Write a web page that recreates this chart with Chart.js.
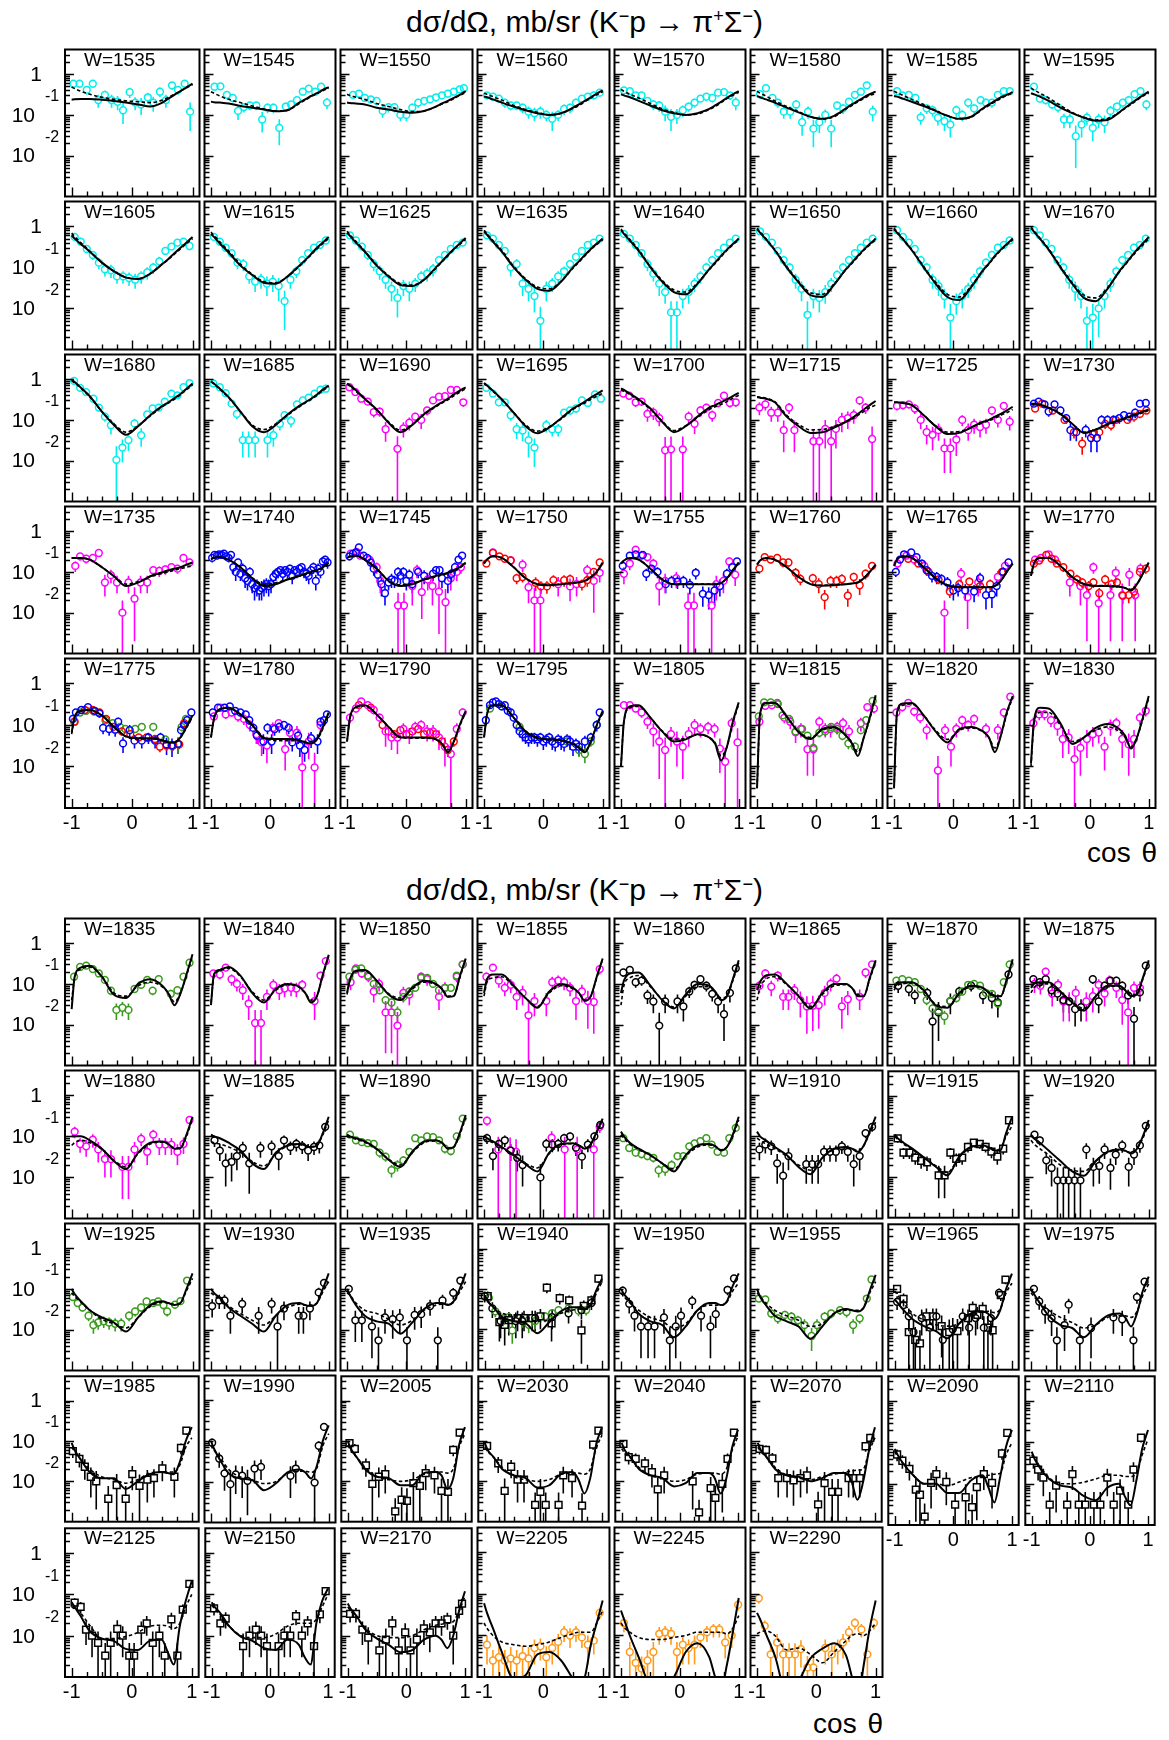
<!DOCTYPE html>
<html>
<head>
<meta charset="utf-8">
<script src="https://cdn.jsdelivr.net/npm/chart.js@4.4.1/dist/chart.umd.min.js"></script>
<style>
  body { margin: 0; background: #fff; }
  #page { position: relative; width: 1169px; height: 1740px; overflow: hidden; font-family: "Liberation Sans", Arial, sans-serif; color: #000; }
  canvas { position: absolute; }
  .title { position: absolute; left: 0; width: 1169px; text-align: center; font-size: 30px; line-height: 34px; white-space: nowrap; }
  .title sup { font-size: 0.6em; line-height: 0; vertical-align: 0.55em; }
  .axis { position: absolute; font-size: 28px; line-height: 30px; word-spacing: 3px; white-space: nowrap; }
</style>
</head>
<body>
<div id="page">
  <div class="title" style="top:5px">d&sigma;/d&Omega;, mb/sr (K<sup>&minus;</sup>p &rarr; &pi;<sup>+</sup>&Sigma;<sup>&minus;</sup>)</div>
  <div class="title" style="top:873px">d&sigma;/d&Omega;, mb/sr (K<sup>&minus;</sup>p &rarr; &pi;<sup>+</sup>&Sigma;<sup>&minus;</sup>)</div>
  <div class="axis" style="right:12px;top:838px">cos &theta;</div>
  <div class="axis" style="right:286px;top:1709px">cos &theta;</div>
</div>
<script>
// W of each panel, top block first, then bottom block
const energies = [1535, 1545, 1550, 1560, 1570, 1580, 1585, 1595,
  1605, 1615, 1625, 1635, 1640, 1650, 1660, 1670,
  1680, 1685, 1690, 1695, 1700, 1715, 1725, 1730,
  1735, 1740, 1745, 1750, 1755, 1760, 1765, 1770,
  1775, 1780, 1790, 1795, 1805, 1815, 1820, 1830,
  1835, 1840, 1850, 1855, 1860, 1865, 1870, 1875,
  1880, 1885, 1890, 1900, 1905, 1910, 1915, 1920,
  1925, 1930, 1935, 1940, 1950, 1955, 1965, 1975,
  1985, 1990, 2005, 2030, 2040, 2070, 2090, 2110,
  2125, 2150, 2170, 2205, 2245, 2290];

// cos theta where the fit curves were read
const fitCos = [-1, -0.95, -0.85, -0.7, -0.5, -0.3, -0.1, 0.1, 0.3, 0.5, 0.6, 0.7, 0.8, 0.9, 1];

// solid fit, mb/sr
const solidFit = [
  [.235,.24,.245,.245,.235,.22,.2,.18,.16,.2,.25,.31,.38,.47,.58],
  [.21,.205,.2,.19,.165,.15,.135,.123,.13,.2,.24,.29,.34,.41,.48],
  [.2,.195,.19,.18,.15,.135,.12,.113,.125,.16,.19,.22,.26,.31,.38],
  [.28,.27,.24,.2,.16,.13,.11,.1,.11,.15,.18,.22,.27,.33,.4],
  [.32,.3,.27,.22,.17,.13,.11,.1,.11,.14,.17,.21,.26,.32,.38],
  [.29,.27,.24,.2,.15,.115,.09,.08,.095,.145,.18,.22,.27,.32,.37],
  [.29,.28,.25,.21,.165,.125,.095,.08,.09,.145,.18,.22,.27,.31,.36],
  [.34,.32,.28,.22,.15,.11,.085,.072,.075,.115,.15,.19,.24,.3,.37],
  [.6,.5,.37,.24,.13,.08,.056,.052,.07,.12,.16,.22,.3,.4,.55],
  [.65,.55,.38,.23,.11,.065,.042,.04,.06,.11,.15,.21,.3,.4,.55],
  [.7,.58,.4,.24,.11,.06,.037,.035,.05,.1,.14,.2,.28,.38,.52],
  [.75,.62,.42,.24,.1,.05,.03,.027,.045,.1,.14,.2,.28,.38,.5],
  [.8,.65,.45,.25,.1,.045,.025,.022,.04,.09,.13,.19,.27,.37,.5],
  [.85,.7,.48,.26,.1,.043,.021,.019,.038,.09,.13,.19,.27,.37,.5],
  [.85,.7,.48,.26,.1,.04,.019,.016,.033,.085,.125,.19,.27,.37,.5],
  [.9,.74,.5,.27,.1,.04,.018,.015,.03,.08,.12,.18,.27,.38,.55],
  [.95,.85,.62,.38,.16,.075,.043,.07,.13,.22,.27,.34,.43,.58,.78],
  [.88,.78,.58,.36,.16,.07,.05,.075,.135,.22,.27,.33,.42,.55,.69],
  [.78,.7,.53,.33,.18,.085,.05,.075,.14,.22,.27,.33,.42,.52,.63],
  [.8,.7,.52,.32,.15,.07,.047,.065,.11,.19,.23,.28,.35,.43,.53],
  [.59,.54,.44,.32,.19,.09,.05,.07,.12,.2,.23,.27,.32,.38,.46],
  [.36,.35,.33,.27,.12,.07,.048,.05,.065,.09,.11,.14,.18,.23,.29],
  [.27,.27,.26,.23,.13,.07,.045,.048,.065,.09,.1,.12,.14,.17,.21],
  [.25,.25,.24,.2,.14,.08,.048,.058,.078,.1,.11,.125,.14,.16,.18],
  [.22,.22,.22,.2,.13,.078,.045,.055,.078,.098,.11,.12,.13,.15,.17],
  [.2,.22,.23,.2,.13,.07,.045,.05,.065,.08,.09,.1,.11,.13,.17],
  [.22,.24,.25,.2,.12,.06,.045,.05,.065,.08,.088,.095,.11,.13,.17],
  [.16,.2,.24,.22,.13,.07,.05,.047,.05,.053,.056,.06,.075,.1,.17],
  [.16,.19,.22,.2,.12,.065,.05,.05,.05,.05,.05,.053,.07,.11,.17],
  [.15,.19,.22,.2,.13,.075,.05,.046,.047,.05,.052,.055,.07,.1,.15],
  [.14,.2,.24,.22,.13,.07,.047,.042,.042,.042,.042,.045,.06,.1,.16],
  [.08,.16,.22,.22,.14,.075,.05,.045,.045,.043,.04,.035,.05,.09,.17],
  [.066,.16,.22,.23,.17,.09,.053,.048,.048,.043,.038,.038,.05,.09,.17],
  [.05,.14,.24,.26,.18,.1,.048,.046,.046,.043,.038,.036,.045,.09,.2],
  [.04,.15,.27,.3,.18,.09,.05,.05,.05,.045,.035,.022,.04,.1,.22],
  [.05,.18,.3,.3,.15,.07,.048,.045,.043,.035,.028,.022,.04,.1,.22],
  [.01,.12,.28,.3,.15,.07,.04,.045,.06,.05,.035,.014,.03,.12,.35],
  [.003,.18,.34,.34,.16,.067,.046,.08,.09,.055,.036,.018,.05,.15,.52],
  [.003,.2,.33,.34,.17,.07,.038,.08,.09,.07,.05,.022,.055,.2,.5],
  [.012,.12,.26,.25,.11,.035,.05,.085,.105,.08,.055,.027,.05,.15,.5],
  [.024,.15,.25,.28,.15,.054,.045,.1,.13,.09,.058,.03,.058,.17,.53],
  [.03,.17,.22,.26,.16,.06,.035,.075,.1,.085,.06,.035,.05,.17,.52],
  [.06,.13,.21,.22,.12,.055,.04,.08,.12,.1,.075,.048,.05,.15,.42],
  [.06,.13,.17,.17,.09,.045,.026,.065,.1,.08,.06,.038,.05,.15,.42],
  [.06,.12,.18,.19,.09,.04,.025,.055,.1,.09,.065,.04,.05,.13,.38],
  [.07,.11,.16,.17,.1,.05,.025,.06,.1,.1,.08,.05,.05,.14,.38],
  [.08,.1,.11,.11,.07,.03,.026,.06,.09,.08,.06,.05,.05,.13,.4],
  [.08,.1,.11,.11,.065,.035,.022,.05,.09,.09,.07,.05,.055,.14,.38],
  [.1,.1,.1,.08,.05,.025,.016,.04,.07,.075,.065,.05,.052,.11,.3],
  [.11,.1,.09,.07,.045,.022,.016,.04,.06,.065,.06,.055,.06,.12,.3],
  [.11,.1,.09,.075,.05,.027,.018,.042,.075,.08,.07,.05,.055,.12,.33],
  [.1,.09,.075,.055,.035,.021,.014,.04,.065,.068,.06,.05,.065,.13,.27],
  [.13,.1,.07,.05,.035,.022,.014,.035,.06,.065,.058,.045,.055,.11,.3],
  [.13,.1,.08,.055,.035,.018,.012,.03,.05,.055,.05,.042,.06,.13,.3],
  [.11,.09,.07,.05,.03,.018,.011,.032,.055,.06,.055,.045,.045,.12,.3],
  [.11,.09,.07,.045,.025,.014,.011,.025,.042,.048,.045,.038,.05,.1,.25],
  [.1,.075,.05,.03,.02,.015,.009,.02,.04,.05,.045,.04,.045,.1,.24],
  [.1,.08,.06,.035,.022,.014,.009,.022,.04,.045,.04,.038,.045,.1,.24],
  [.1,.07,.04,.022,.016,.014,.008,.015,.032,.045,.045,.04,.05,.1,.24],
  [.07,.05,.035,.02,.016,.014,.008,.015,.028,.035,.035,.032,.04,.09,.18],
  [.1,.075,.05,.025,.016,.013,.0065,.012,.03,.045,.045,.04,.05,.12,.24],
  [.1,.065,.04,.022,.016,.012,.006,.012,.025,.032,.03,.028,.035,.09,.22],
  [.055,.045,.03,.018,.012,.009,.006,.014,.025,.028,.024,.018,.03,.1,.24],
  [.1,.075,.045,.022,.013,.011,.0065,.013,.022,.025,.02,.012,.025,.09,.2],
  [.09,.06,.035,.017,.012,.012,.0065,.01,.015,.017,.016,.015,.03,.1,.22],
  [.1,.065,.035,.016,.012,.011,.0062,.009,.017,.02,.017,.012,.025,.1,.24],
  [.1,.065,.04,.02,.013,.012,.008,.008,.016,.017,.014,.0065,.012,.08,.22],
  [.09,.06,.04,.02,.014,.012,.007,.008,.015,.017,.011,.005,.012,.08,.22],
  [.09,.06,.04,.02,.014,.012,.0075,.009,.016,.016,.012,.005,.012,.07,.19],
  [.09,.06,.04,.02,.014,.013,.01,.012,.016,.016,.01,.0035,.01,.06,.22],
  [.07,.05,.03,.017,.01,.01,.006,.006,.012,.016,.008,.0035,.015,.08,.2],
  [.06,.04,.023,.013,.009,.008,.005,.004,.008,.01,.005,.003,.012,.07,.2],
  [.065,.05,.03,.013,.0085,.0075,.0048,.0045,.0075,.008,.004,.002,.017,.07,.21],
  [.065,.05,.035,.017,.0095,.0075,.005,.0045,.008,.006,.003,.002,.02,.07,.14],
  [.06,.045,.03,.014,.0085,.006,.004,.0045,.008,.01,.008,.005,.01,.04,.12],
  [.06,.035,.015,.004,.0009,.0011,.0035,.004,.0025,.0009,.0006,.001,.006,.02,.07],
  [.04,.025,.01,.003,.0006,.0005,.001,.004,.0065,.003,.001,.0005,.002,.012,.08],
  [.035,.025,.011,.0033,.0004,.0008,.0028,.0048,.0065,.0033,.001,.0003,.002,.015,.07]
];

// dashed fit, mb/sr
const dashedFit = [
  [.48,.44,.38,.32,.27,.24,.22,.21,.2,.23,.27,.32,.38,.46,.55],
  [.37,.34,.29,.24,.2,.165,.14,.125,.13,.19,.23,.28,.33,.39,.45],
  [.32,.3,.27,.24,.19,.16,.135,.12,.125,.16,.185,.21,.25,.3,.35],
  [.34,.32,.28,.23,.17,.135,.115,.1,.11,.145,.17,.21,.26,.31,.37],
  [.42,.38,.32,.26,.19,.14,.115,.1,.105,.135,.16,.2,.25,.3,.36],
  [.38,.34,.29,.22,.16,.12,.09,.08,.09,.14,.17,.21,.25,.3,.33],
  [.38,.35,.3,.24,.18,.13,.095,.08,.088,.14,.17,.21,.25,.3,.34],
  [.46,.41,.34,.26,.17,.115,.088,.075,.082,.115,.145,.18,.23,.29,.34],
  [.68,.56,.4,.25,.13,.08,.057,.053,.07,.12,.155,.21,.28,.38,.5],
  [.72,.6,.42,.25,.12,.068,.045,.042,.06,.105,.145,.2,.28,.38,.5],
  [.76,.62,.43,.25,.115,.063,.04,.037,.05,.095,.135,.19,.27,.36,.48],
  [.8,.66,.45,.26,.105,.053,.033,.03,.046,.095,.135,.19,.27,.36,.47],
  [.85,.7,.48,.27,.105,.048,.028,.025,.042,.088,.125,.18,.26,.35,.47],
  [.9,.74,.5,.27,.105,.046,.024,.022,.04,.088,.125,.18,.26,.35,.47],
  [.9,.74,.5,.27,.105,.044,.022,.019,.035,.083,.12,.18,.26,.35,.47],
  [.95,.78,.52,.28,.105,.043,.021,.018,.032,.078,.115,.17,.25,.35,.5],
  [.9,.8,.6,.37,.16,.08,.05,.072,.125,.21,.26,.32,.41,.55,.72],
  [.85,.75,.56,.35,.16,.075,.058,.08,.13,.21,.26,.32,.4,.52,.65],
  [.75,.67,.5,.32,.175,.09,.056,.078,.135,.21,.26,.31,.39,.48,.58],
  [.78,.68,.5,.31,.15,.075,.053,.068,.105,.18,.22,.26,.32,.38,.45],
  [.55,.5,.42,.3,.18,.093,.055,.072,.115,.18,.21,.24,.28,.34,.4],
  [.37,.36,.34,.28,.13,.078,.057,.058,.07,.09,.105,.13,.16,.2,.23],
  [.27,.27,.26,.23,.13,.072,.05,.052,.065,.085,.095,.11,.13,.15,.18],
  [.24,.24,.23,.2,.14,.08,.05,.058,.076,.095,.105,.12,.135,.15,.17],
  [.22,.22,.22,.2,.13,.08,.05,.058,.075,.092,.1,.11,.12,.13,.14],
  [.21,.22,.23,.2,.13,.072,.05,.054,.066,.078,.086,.095,.105,.125,.15],
  [.22,.24,.25,.2,.12,.062,.048,.052,.064,.076,.084,.092,.105,.125,.16],
  [.16,.2,.24,.22,.13,.07,.05,.048,.05,.053,.056,.06,.073,.1,.16],
  [.16,.19,.22,.2,.12,.066,.05,.05,.05,.05,.05,.053,.07,.11,.165],
  [.15,.19,.22,.2,.13,.076,.051,.047,.048,.05,.052,.056,.07,.1,.15],
  [.14,.2,.24,.22,.13,.07,.048,.043,.043,.043,.043,.046,.06,.1,.16],
  [.08,.16,.22,.22,.14,.076,.051,.046,.046,.044,.041,.037,.05,.09,.17],
  [.06,.15,.21,.23,.17,.09,.052,.046,.046,.043,.039,.038,.05,.085,.16],
  [.05,.14,.24,.26,.18,.1,.05,.042,.042,.042,.04,.04,.045,.08,.18],
  [.04,.15,.26,.29,.18,.09,.052,.048,.048,.045,.037,.025,.04,.095,.2],
  [.05,.18,.29,.29,.15,.072,.05,.045,.042,.035,.029,.024,.04,.095,.2],
  [.01,.12,.26,.28,.15,.072,.045,.048,.058,.05,.037,.018,.03,.11,.32],
  [.003,.16,.33,.34,.16,.07,.05,.075,.085,.055,.038,.022,.05,.14,.48],
  [.003,.18,.3,.32,.17,.075,.045,.075,.085,.068,.05,.028,.055,.18,.46],
  [.01,.1,.2,.2,.1,.04,.05,.075,.09,.07,.05,.03,.05,.14,.45],
  [.04,.14,.23,.26,.15,.06,.05,.09,.11,.085,.06,.036,.06,.16,.48],
  [.035,.15,.21,.24,.15,.065,.04,.07,.095,.082,.06,.04,.05,.16,.47],
  [.055,.12,.2,.21,.12,.058,.045,.075,.11,.095,.075,.05,.052,.14,.4],
  [.05,.11,.14,.15,.085,.045,.028,.06,.09,.075,.058,.04,.05,.14,.4],
  [.03,.09,.14,.16,.085,.042,.027,.05,.085,.085,.065,.045,.05,.12,.33],
  [.04,.08,.13,.15,.095,.052,.028,.055,.09,.095,.08,.055,.052,.13,.35],
  [.07,.09,.1,.105,.068,.032,.028,.057,.085,.078,.062,.052,.05,.12,.36],
  [.06,.08,.1,.1,.062,.036,.025,.05,.085,.088,.072,.055,.056,.13,.35],
  [.06,.07,.08,.07,.048,.026,.018,.038,.065,.072,.065,.052,.052,.1,.27],
  [.075,.07,.065,.055,.04,.024,.019,.038,.058,.063,.06,.056,.06,.11,.25],
  [.1,.095,.085,.072,.048,.028,.02,.04,.07,.077,.07,.052,.055,.11,.28],
  [.085,.08,.07,.052,.034,.022,.017,.038,.062,.066,.06,.052,.064,.12,.24],
  [.11,.09,.065,.048,.034,.022,.016,.033,.055,.062,.057,.047,.055,.1,.25],
  [.09,.08,.065,.05,.033,.02,.015,.03,.048,.053,.05,.045,.06,.12,.22],
  [.1,.085,.065,.048,.03,.019,.013,.031,.052,.057,.053,.046,.05,.1,.18],
  [.08,.065,.05,.035,.02,.015,.014,.025,.04,.046,.044,.04,.05,.09,.2],
  [.08,.065,.048,.03,.018,.014,.011,.02,.037,.047,.045,.042,.045,.09,.18],
  [.08,.07,.055,.038,.025,.017,.013,.022,.035,.042,.04,.04,.045,.085,.15],
  [.08,.07,.045,.03,.025,.018,.013,.017,.03,.04,.042,.042,.048,.085,.15],
  [.06,.05,.035,.025,.022,.02,.016,.017,.025,.03,.032,.032,.038,.075,.15],
  [.08,.065,.045,.03,.02,.016,.011,.014,.03,.04,.04,.04,.048,.09,.14],
  [.08,.065,.045,.03,.022,.017,.012,.014,.025,.03,.03,.03,.035,.08,.15],
  [.09,.07,.045,.025,.017,.013,.012,.014,.022,.027,.028,.026,.032,.08,.14],
  [.08,.065,.045,.03,.02,.015,.011,.013,.02,.022,.022,.02,.028,.07,.13],
  [.07,.055,.035,.02,.013,.011,.009,.011,.016,.017,.017,.017,.025,.07,.12],
  [.08,.06,.04,.02,.013,.011,.009,.01,.016,.018,.018,.017,.022,.075,.15],
  [.08,.06,.04,.022,.013,.011,.01,.011,.015,.017,.017,.016,.02,.07,.15],
  [.07,.055,.04,.022,.013,.011,.01,.011,.015,.016,.016,.015,.02,.065,.14],
  [.065,.05,.038,.022,.014,.012,.01,.011,.015,.016,.016,.015,.02,.06,.13],
  [.07,.055,.04,.022,.014,.012,.011,.013,.015,.017,.018,.019,.02,.055,.12],
  [.06,.045,.03,.017,.01,.01,.009,.011,.014,.015,.016,.017,.018,.05,.1],
  [.05,.04,.025,.014,.01,.01,.011,.013,.016,.016,.015,.015,.018,.05,.12],
  [.05,.045,.035,.018,.0085,.0085,.0095,.012,.017,.018,.017,.015,.02,.05,.1],
  [.055,.045,.032,.017,.01,.009,.009,.011,.017,.02,.02,.02,.025,.05,.1],
  [.05,.04,.028,.015,.01,.009,.009,.01,.014,.018,.019,.02,.022,.04,.09],
  [.02,.015,.01,.007,.006,.0055,.006,.007,.009,.011,.012,.012,.012,.02,.04],
  [.02,.016,.012,.009,.008,.008,.009,.01,.012,.012,.012,.012,.011,.015,.03],
  [.011,.012,.013,.01,.0045,.005,.0035,.0022,.004,.0075,.01,.011,.01,.013,.02]
];

// measured points per panel: [data set, [[cos theta, dsigma/dOmega, error], ...]]
// c cyan, m magenta, b blue, r red, g green, k black circle, ks black square, o orange
const measured = [
  [['c',[[-.97,.58,.12],[-.87,.58,.12],[-.75,.41,.1],[-.65,.58,.12],[-.56,.23,.08],[-.45,.31,.08],[-.34,.23,.08],[-.24,.21,.08],[-.15,.13,.07],[-.04,.36,.1],[.05,.2,.07],[.15,.18,.08],[.26,.27,.08],[.35,.2,.08],[.46,.37,.1],[.56,.23,.08],[.66,.53,.12],[.76,.41,.1],[.87,.58,.12],[.96,.12,.08]]]],
  [['c',[[-.94,.49,.08],[-.84,.5,.08],[-.73,.31,.07],[-.63,.26,.06],[-.54,.125,.05],[-.44,.155,.04],[-.34,.17,.04],[-.23,.17,.04],[-.13,.077,.04],[-.04,.15,.04],[.06,.15,.04],[.16,.048,.03],[.27,.16,.04],[.36,.18,.04],[.46,.23,.05],[.56,.37,.07],[.66,.44,.08],[.77,.37,.07],[.87,.49,.08],[.97,.2,.06]]]],
  [['c',[[-.9,.31,.06],[-.8,.33,.06],[-.7,.26,.05],[-.6,.24,.05],[-.5,.22,.05],[-.4,.125,.04],[-.3,.155,.04],[-.2,.155,.04],[-.1,.1,.03],[0,.1,.03],[.1,.15,.04],[.2,.2,.05],[.3,.22,.05],[.4,.24,.05],[.5,.27,.06],[.6,.3,.06],[.7,.33,.06],[.8,.37,.07],[.9,.42,.08],[.97,.45,.08]]]],
  [['c',[[-.95,.3,.06],[-.85,.28,.06],[-.75,.25,.05],[-.65,.2,.05],[-.55,.17,.04],[-.45,.17,.04],[-.35,.15,.04],[-.25,.12,.04],[-.15,.11,.04],[-.05,.12,.04],[.05,.1,.03],[.15,.08,.04],[.25,.1,.03],[.35,.14,.04],[.45,.15,.04],[.55,.2,.05],[.65,.25,.05],[.75,.28,.06],[.85,.3,.06],[.95,.35,.07]]]],
  [['c',[[-.95,.4,.08],[-.85,.38,.07],[-.75,.3,.06],[-.65,.3,.06],[-.55,.22,.05],[-.45,.18,.05],[-.35,.17,.05],[-.25,.12,.05],[-.15,.09,.05],[-.05,.1,.04],[.05,.13,.04],[.15,.16,.04],[.25,.2,.05],[.35,.25,.05],[.45,.28,.06],[.55,.26,.06],[.65,.35,.07],[.75,.36,.07],[.85,.3,.07],[.95,.2,.07]]]],
  [['c',[[-.95,.32,.06],[-.85,.45,.08],[-.74,.26,.05],[-.65,.2,.05],[-.55,.12,.04],[-.44,.12,.04],[-.34,.18,.05],[-.24,.066,.035],[-.14,.12,.04],[-.05,.046,.03],[.05,.066,.03],[.15,.1,.035],[.25,.046,.03],[.35,.17,.04],[.45,.145,.04],[.55,.21,.05],[.65,.31,.06],[.75,.37,.07],[.85,.53,.08],[.95,.12,.05]]]],
  [['c',[[-.95,.38,.06],[-.86,.3,.06],[-.75,.31,.06],[-.64,.26,.05],[-.55,.087,.03],[-.45,.145,.04],[-.35,.13,.04],[-.26,.085,.03],[-.15,.07,.03],[-.05,.058,.03],[.05,.13,.04],[.15,.1,.03],[.25,.2,.05],[.35,.145,.04],[.46,.23,.05],[.55,.2,.05],[.65,.2,.05],[.75,.31,.06],[.85,.38,.07],[.95,.38,.07]]]],
  [['c',[[-.95,.49,.08],[-.85,.25,.05],[-.75,.23,.05],[-.64,.18,.04],[-.54,.155,.04],[-.44,.077,.03],[-.34,.077,.03],[-.24,.03,.025],[-.14,.058,.03],[-.05,.085,.03],[.05,.048,.025],[.15,.077,.03],[.25,.066,.03],[.35,.125,.04],[.46,.16,.04],[.56,.2,.05],[.66,.23,.05],[.76,.32,.06],[.86,.38,.07],[.96,.18,.05]]]],
  [['c',[[-.95,.55,.1],[-.85,.42,.08],[-.75,.28,.06],[-.65,.2,.05],[-.55,.13,.04],[-.45,.09,.03],[-.35,.085,.03],[-.25,.06,.02],[-.15,.06,.02],[-.05,.055,.02],[.05,.05,.02],[.15,.06,.02],[.25,.075,.025],[.35,.1,.03],[.45,.14,.04],[.55,.25,.05],[.65,.32,.06],[.75,.4,.07],[.85,.42,.08],[.95,.33,.07]]]],
  [['c',[[-.95,.55,.1],[-.85,.42,.08],[-.75,.3,.06],[-.65,.22,.05],[-.55,.13,.04],[-.45,.12,.04],[-.35,.06,.02],[-.25,.045,.02],[-.15,.05,.02],[-.05,.04,.02],[.05,.045,.02],[.15,.035,.02],[.25,.015,.012],[.35,.05,.02],[.45,.08,.025],[.55,.15,.04],[.65,.22,.05],[.75,.3,.06],[.85,.35,.07],[.95,.45,.08]]]],
  [['c',[[-.95,.6,.1],[-.85,.45,.08],[-.75,.32,.06],[-.65,.2,.05],[-.55,.12,.04],[-.45,.08,.03],[-.35,.05,.02],[-.25,.03,.015],[-.15,.018,.012],[-.05,.035,.015],[.05,.03,.015],[.15,.04,.015],[.25,.06,.02],[.35,.07,.025],[.45,.09,.03],[.55,.15,.04],[.65,.2,.05],[.75,.28,.06],[.85,.35,.07],[.95,.4,.08]]]],
  [['c',[[-.95,.6,.1],[-.85,.5,.09],[-.75,.35,.07],[-.65,.25,.05],[-.55,.1,.04],[-.45,.12,.04],[-.35,.04,.02],[-.25,.03,.015],[-.15,.02,.012],[-.05,.005,.006],[.05,.03,.015],[.15,.04,.015],[.25,.06,.02],[.35,.08,.025],[.45,.12,.03],[.55,.18,.04],[.65,.25,.05],[.75,.35,.07],[.85,.4,.08],[.95,.5,.09]]]],
  [['c',[[-.95,.65,.1],[-.85,.5,.09],[-.75,.35,.07],[-.65,.22,.05],[-.55,.12,.04],[-.45,.07,.025],[-.35,.04,.02],[-.25,.025,.012],[-.15,.008,.007],[-.05,.008,.007],[.05,.02,.01],[.15,.025,.012],[.25,.04,.015],[.35,.06,.02],[.45,.1,.03],[.55,.15,.04],[.65,.22,.05],[.75,.3,.06],[.85,.4,.08],[.95,.5,.09]]]],
  [['c',[[-.95,.75,.12],[-.85,.55,.1],[-.75,.4,.08],[-.65,.25,.05],[-.55,.15,.04],[-.45,.1,.03],[-.35,.05,.02],[-.25,.03,.015],[-.15,.007,.008],[-.05,.02,.01],[.05,.018,.01],[.15,.025,.012],[.25,.04,.015],[.35,.065,.02],[.45,.1,.03],[.55,.15,.04],[.65,.22,.05],[.75,.3,.06],[.85,.4,.08],[.95,.5,.09]]]],
  [['c',[[-.95,.8,.12],[-.85,.55,.1],[-.75,.4,.08],[-.65,.28,.06],[-.55,.15,.04],[-.45,.1,.03],[-.35,.05,.02],[-.25,.035,.015],[-.15,.02,.01],[-.05,.006,.007],[.05,.015,.008],[.15,.02,.01],[.25,.03,.012],[.35,.05,.02],[.45,.08,.025],[.55,.13,.035],[.65,.2,.05],[.75,.3,.06],[.85,.35,.07],[.95,.45,.08]]]],
  [['c',[[-.95,.8,.12],[-.85,.6,.1],[-.75,.4,.08],[-.65,.28,.06],[-.55,.15,.04],[-.45,.1,.03],[-.35,.05,.02],[-.25,.03,.015],[-.15,.02,.01],[-.05,.005,.006],[.05,.006,.007],[.15,.01,.008],[.25,.02,.01],[.35,.04,.015],[.45,.08,.025],[.55,.15,.04],[.65,.2,.05],[.75,.3,.06],[.85,.35,.07],[.95,.5,.09]]]],
  [['c',[[-.96,.9,.12],[-.86,.61,.1],[-.76,.48,.08],[-.64,.33,.06],[-.55,.2,.04],[-.45,.12,.03],[-.35,.074,.03],[-.26,.0105,.012],[-.16,.021,.012],[-.06,.032,.015],[.04,.082,.025],[.15,.042,.02],[.25,.136,.03],[.34,.19,.04],[.44,.2,.04],[.54,.28,.05],[.65,.44,.07],[.75,.4,.07],[.85,.63,.1],[.95,.79,.12]]]],
  [['c',[[-.96,.78,.12],[-.85,.63,.1],[-.75,.45,.08],[-.65,.25,.05],[-.56,.14,.035],[-.46,.032,.02],[-.36,.032,.02],[-.25,.032,.02],[-.04,.032,.02],[.06,.042,.02],[.17,.08,.025],[.25,.13,.03],[.36,.095,.03],[.46,.24,.05],[.56,.3,.05],[.66,.35,.06],[.76,.44,.07],[.86,.55,.09],[.95,.58,.09]]]],
  [['m',[[-.96,.63,.1],[-.86,.48,.08],[-.76,.33,.06],[-.65,.28,.05],[-.55,.155,.04],[-.45,.16,.04],[-.35,.059,.03],[-.15,.0195,.02],[-.05,.062,.025],[.05,.085,.03],[.15,.12,.03],[.25,.1,.04],[.35,.17,.04],[.45,.3,.05],[.55,.37,.06],[.65,.38,.06],[.75,.54,.08],[.85,.54,.08],[.96,.27,.06]]]],
  [['c',[[-.96,.61,.1],[-.85,.44,.08],[-.75,.27,.05],[-.65,.27,.05],[-.55,.13,.035],[-.45,.059,.025],[-.35,.055,.025],[-.25,.032,.02],[-.15,.021,.014],[.05,.074,.025],[.15,.059,.02],[.25,.059,.02],[.35,.15,.035],[.45,.17,.035],[.55,.19,.04],[.65,.3,.05],[.75,.26,.05],[.87,.42,.07],[.97,.33,.06]]]],
  [['m',[[-.96,.44,.08],[-.86,.39,.07],[-.75,.27,.06],[-.65,.28,.06],[-.55,.14,.05],[-.45,.15,.05],[-.35,.11,.04],[-.25,.018,.02],[-.15,.019,.02],[.05,.019,.02],[.15,.12,.04],[.25,.08,.035],[.35,.17,.05],[.45,.2,.05],[.55,.13,.04],[.65,.26,.06],[.75,.39,.07],[.85,.26,.06],[.95,.27,.06]]]],
  [['m',[[-.96,.2,.07],[-.86,.24,.07],[-.76,.15,.06],[-.65,.15,.06],[-.55,.056,.04],[-.46,.2,.06],[-.37,.056,.04],[-.05,.03,.03],[.05,.03,.03],[.15,.06,.04],[.25,.03,.03],[.33,.06,.04],[.43,.1,.05],[.53,.11,.05],[.63,.13,.05],[.73,.3,.07],[.83,.2,.06],[.94,.034,.035]]]],
  [['m',[[-.95,.22,.05],[-.85,.23,.05],[-.75,.24,.05],[-.65,.19,.05],[-.55,.1,.04],[-.45,.05,.025],[-.35,.043,.025],[-.25,.056,.025],[-.15,.02,.015],[-.05,.02,.015],[.05,.033,.02],[.15,.1,.03],[.25,.056,.025],[.35,.076,.03],[.45,.067,.03],[.55,.076,.03],[.65,.17,.04],[.75,.1,.035],[.85,.22,.05],[.95,.09,.035]]]],
  [['b',[[-.95,.25,.04],[-.87,.28,.05],[-.77,.24,.04],[-.7,.16,.04],[-.6,.24,.04],[-.5,.17,.04],[-.4,.11,.03],[-.33,.056,.025],[-.23,.05,.02],[-.07,.057,.02],[.02,.036,.02],[.12,.036,.02],[.2,.1,.03],[.3,.1,.03],[.4,.1,.03],[.5,.11,.03],[.58,.13,.03],[.67,.12,.03],[.77,.15,.04],[.85,.25,.05],[.95,.26,.05]]],
   ['r',[[-.93,.19,.03],[-.81,.25,.04],[-.63,.17,.03],[-.43,.1,.02],[-.27,.05,.015],[-.13,.026,.012],[.05,.045,.015],[.16,.05,.015],[.26,.08,.02],[.36,.075,.02],[.44,.1,.02],[.64,.1,.02],[.75,.12,.03],[.85,.14,.03],[.96,.17,.03]]]],
  [['m',[[-.94,.14,.04],[-.86,.24,.05],[-.76,.21,.05],[-.65,.22,.05],[-.55,.29,.06],[-.45,.055,.03],[-.35,.083,.03],[-.25,.055,.025],[-.16,.01,.01],[-.06,.055,.025],[.04,.022,.02],[.14,.055,.025],[.25,.055,.025],[.35,.11,.03],[.45,.105,.03],[.55,.115,.03],[.65,.13,.03],[.75,.12,.03],[.85,.22,.05],[.95,.17,.04]]]],
  [['b',[[-.98,.22,.05],[-.94,.26,.05],[-.9,.25,.05],[-.86,.27,.05],[-.82,.26,.05],[-.78,.28,.05],[-.74,.24,.05],[-.7,.22,.05],[-.66,.26,.05],[-.62,.13,.04],[-.58,.1,.04],[-.54,.17,.04],[-.5,.09,.03],[-.46,.12,.04],[-.42,.07,.03],[-.38,.06,.025],[-.34,.1,.03],[-.3,.05,.02],[-.26,.04,.02],[-.22,.045,.02],[-.18,.035,.015],[-.14,.04,.02],[-.1,.045,.02],[-.06,.05,.02],[-.02,.045,.02],[.02,.05,.02],[.06,.075,.025],[.1,.09,.03],[.14,.1,.03],[.18,.11,.03],[.22,.09,.03],[.26,.11,.03],[.3,.1,.03],[.34,.12,.03],[.38,.08,.03],[.42,.11,.03],[.46,.1,.03],[.5,.12,.03],[.54,.13,.03],[.58,.1,.03],[.62,.09,.03],[.66,.08,.03],[.7,.11,.03],[.74,.13,.04],[.78,.06,.025],[.82,.12,.04],[.86,.1,.03],[.9,.18,.05],[.94,.2,.05],[.98,.17,.05]]]],
  [['b',[[-.96,.24,.05],[-.9,.28,.05],[-.85,.3,.06],[-.8,.4,.07],[-.72,.25,.05],[-.66,.22,.05],[-.6,.17,.04],[-.55,.12,.04],[-.48,.085,.03],[-.42,.05,.025],[-.36,.03,.015],[-.3,.055,.02],[-.25,.065,.025],[-.2,.06,.02],[-.14,.1,.03],[-.1,.08,.03],[-.05,.1,.03],[0,.06,.025],[.05,.085,.03],[.1,.05,.02],[.2,.1,.03],[.3,.08,.03],[.45,.09,.03],[.5,.11,.03],[.56,.11,.03],[.6,.07,.03],[.7,.06,.03],[.76,.09,.03],[.82,.13,.04],[.88,.2,.05],[.94,.25,.05]]],
   ['m',[[-.94,.28,.06],[-.84,.31,.06],[-.78,.25,.05],[-.62,.2,.05],[-.5,.13,.04],[-.44,.06,.03],[-.14,.015,.016],[-.04,.015,.016],[.1,.045,.03],[.18,.11,.04],[.26,.032,.025],[.36,.065,.03],[.44,.045,.03],[.55,.033,.03],[.66,.018,.02],[.75,.07,.035],[.85,.1,.04],[.92,.13,.04]]]],
  [['r',[[-.96,.16,.03],[-.85,.29,.05],[-.74,.24,.04],[-.65,.21,.04],[-.55,.19,.04],[-.45,.07,.02],[-.35,.075,.02],[-.13,.054,.02],[-.04,.044,.015],[.06,.044,.015],[.17,.063,.02],[.35,.063,.02],[.45,.066,.02],[.65,.05,.015],[.74,.063,.02],[.85,.1,.025],[.95,.17,.04]]],
   ['m',[[-.85,.3,.06],[-.55,.19,.05],[-.35,.15,.05],[-.25,.042,.025],[-.15,.02,.02],[-.05,.02,.02],[.25,.05,.025],[.45,.044,.025],[.56,.05,.025],[.74,.11,.04],[.85,.06,.05],[.95,.095,.04]]]],
  [['b',[[-.97,.14,.03],[-.85,.25,.05],[-.75,.27,.05],[-.63,.26,.05],[-.57,.09,.03],[-.48,.12,.03],[-.38,.1,.03],[-.24,.05,.02],[-.14,.06,.02],[-.04,.058,.02],[.06,.06,.02],[.17,.048,.02],[.27,.095,.03],[.39,.029,.015],[.49,.027,.015],[.59,.035,.02],[.68,.045,.02],[.8,.09,.03],[.89,.13,.04],[.97,.18,.04]]],
   ['m',[[-.95,.09,.04],[-.85,.16,.05],[-.75,.35,.07],[-.65,.25,.06],[-.55,.23,.05],[-.45,.16,.05],[-.35,.045,.03],[-.25,.06,.03],[-.06,.07,.03],[.14,.015,.016],[.24,.015,.016],[.54,.015,.016],[.62,.05,.03],[.74,.06,.03],[.84,.18,.05],[.94,.085,.04]]]],
  [['r',[[-.96,.12,.03],[-.87,.23,.04],[-.77,.2,.04],[-.66,.22,.04],[-.56,.17,.04],[-.47,.17,.04],[-.35,.095,.03],[-.27,.067,.02],[-.06,.07,.02],[.04,.05,.02],[.14,.024,.012],[.24,.06,.02],[.34,.06,.02],[.43,.067,.02],[.53,.026,.012],[.63,.075,.02],[.73,.047,.02],[.83,.09,.025],[.94,.14,.03]]]],
  [['b',[[-.97,.1,.025],[-.9,.2,.04],[-.83,.27,.05],[-.71,.3,.05],[-.62,.23,.04],[-.53,.16,.04],[-.45,.11,.03],[-.36,.08,.025],[-.28,.075,.025],[-.2,.067,.02],[-.1,.055,.02],[0,.035,.015],[.08,.04,.015],[.2,.035,.015],[.35,.033,.015],[.45,.07,.025],[.55,.027,.015],[.65,.028,.015],[.73,.045,.02],[.84,.1,.03],[.93,.17,.04]]],
   ['r',[[-.76,.21,.03],[-.59,.16,.03],[-.42,.1,.02],[-.25,.065,.015],[-.06,.033,.01],[.1,.05,.015],[.27,.058,.015],[.45,.045,.015],[.62,.05,.015],[.82,.1,.02]]],
   ['m',[[-.94,.16,.04],[-.79,.25,.05],[-.66,.2,.05],[-.49,.14,.04],[-.15,.01,.01],[.13,.09,.035],[.24,.024,.02],[.42,.055,.03],[.75,.075,.03],[.87,.14,.04]]]],
  [['r',[[-.95,.16,.03],[-.86,.19,.03],[-.74,.26,.04],[-.65,.21,.04],[-.56,.16,.03],[-.45,.13,.03],[-.33,.09,.02],[-.22,.065,.02],[-.13,.055,.015],[-.02,.045,.015],[.06,.055,.015],[.16,.03,.01],[.26,.065,.02],[.37,.05,.015],[.46,.055,.015],[.56,.026,.01],[.66,.027,.01],[.75,.033,.012],[.85,.1,.025],[.95,.12,.03]]],
   ['m',[[-.93,.2,.05],[-.83,.22,.05],[-.7,.27,.05],[-.59,.2,.05],[-.34,.055,.03],[-.16,.045,.03],[-.05,.027,.025],[.06,.13,.04],[.15,.017,.017],[.35,.027,.025],[.44,.095,.04],[.55,.027,.025],[.67,.085,.04],[.77,.027,.025],[.86,.12,.04]]]],
  [['b',[[-.98,.14,.03],[-.93,.2,.04],[-.84,.23,.04],[-.73,.27,.04],[-.62,.22,.04],[-.54,.19,.04],[-.48,.085,.025],[-.38,.08,.025],[-.28,.077,.025],[-.23,.12,.03],[-.15,.036,.015],[-.04,.075,.025],[.04,.042,.015],[.16,.042,.015],[.27,.05,.015],[.38,.042,.015],[.47,.05,.015],[.57,.034,.015],[.66,.032,.015],[.76,.035,.015],[.81,.075,.02],[.86,.1,.025],[.91,.13,.03],[.98,.2,.04]]],
   ['r',[[-.95,.12,.02],[-.78,.23,.03],[-.65,.23,.03],[-.54,.2,.03],[-.43,.14,.025],[-.31,.09,.02],[-.17,.07,.015],[-.03,.06,.012],[.11,.05,.01],[.24,.05,.01],[.38,.046,.01],[.46,.03,.008],[.57,.032,.008],[.68,.032,.008],[.78,.034,.008],[.86,.11,.02]]],
   ['g',[[-.96,.12,.02],[-.86,.2,.03],[-.76,.22,.03],[-.63,.21,.03],[-.44,.13,.02],[-.32,.11,.02],[-.2,.09,.02],[-.11,.08,.015],[.05,.08,.015],[.16,.09,.02],[.35,.09,.02],[.55,.045,.01],[.65,.032,.008],[.76,.035,.015],[.82,.09,.02],[.89,.14,.03]]]],
  [['b',[[-.97,.2,.04],[-.88,.26,.04],[-.77,.26,.04],[-.68,.28,.04],[-.59,.22,.04],[-.5,.2,.04],[-.41,.18,.04],[-.35,.13,.03],[-.28,.085,.025],[-.22,.055,.02],[-.11,.04,.02],[-.04,.085,.025],[.03,.04,.02],[.08,.08,.025],[.16,.09,.025],[.24,.1,.025],[.32,.085,.025],[.38,.038,.015],[.48,.055,.02],[.51,.032,.015],[.59,.025,.012],[.7,.048,.02],[.81,.04,.02],[.86,.12,.03],[.92,.13,.03],[.97,.18,.04]]],
   ['m',[[-.95,.16,.04],[-.84,.26,.05],[-.75,.18,.04],[-.65,.2,.04],[-.54,.16,.04],[-.44,.14,.04],[-.34,.1,.03],[-.23,.06,.025],[-.14,.038,.02],[-.05,.032,.02],[.05,.085,.03],[.15,.11,.03],[.26,.026,.018],[.34,.065,.03],[.46,.065,.03],[.55,.0095,.012],[.66,.04,.025],[.76,.0095,.012],[.86,.1,.04]]]],
  [['m',[[-.95,.15,.04],[-.85,.25,.05],[-.76,.37,.06],[-.65,.3,.05],[-.55,.23,.05],[-.45,.15,.04],[-.35,.07,.04],[-.25,.05,.025],[-.15,.05,.03],[-.05,.08,.03],[.05,.06,.025],[.15,.09,.03],[.25,.1,.03],[.35,.07,.03],[.45,.07,.03],[.55,.05,.025],[.65,.03,.02],[.75,.02,.02],[.85,.08,.03],[.95,.2,.05]]],
   ['r',[[-.8,.3,.04],[-.6,.26,.04],[-.4,.1,.02],[-.3,.07,.015],[-.2,.06,.012],[-.1,.075,.015],[0,.06,.012],[.1,.07,.015],[.2,.08,.015],[.3,.06,.012],[.4,.065,.012],[.5,.06,.012],[.6,.04,.01],[.7,.025,.008],[.8,.04,.01]]]],
  [['b',[[-.97,.13,.03],[-.9,.3,.05],[-.85,.35,.05],[-.8,.37,.05],[-.75,.32,.05],[-.7,.28,.05],[-.65,.3,.05],[-.6,.22,.04],[-.55,.2,.04],[-.5,.15,.03],[-.45,.1,.03],[-.4,.07,.02],[-.35,.06,.02],[-.3,.05,.015],[-.25,.045,.015],[-.2,.05,.015],[-.15,.05,.015],[-.1,.045,.015],[-.05,.05,.015],[0,.04,.015],[.05,.045,.015],[.1,.05,.015],[.15,.04,.015],[.2,.035,.012],[.25,.045,.015],[.3,.04,.015],[.35,.035,.012],[.4,.045,.015],[.45,.04,.015],[.5,.03,.012],[.55,.035,.012],[.6,.03,.012],[.7,.04,.015],[.8,.05,.015],[.9,.1,.03],[.95,.2,.04]]],
   ['g',[[-.9,.25,.04],[-.7,.28,.04],[-.4,.09,.02],[.4,.04,.01],[.6,.025,.008],[.7,.02,.008],[.8,.04,.01],[.9,.1,.02]]]],
  [['m',[[-.95,.3,.06],[-.85,.3,.06],[-.75,.25,.05],[-.65,.2,.05],[-.55,.12,.04],[-.45,.07,.04],[-.35,.04,.035],[-.25,.025,.025],[-.15,.06,.03],[-.05,.04,.03],[.05,.03,.025],[.15,.06,.03],[.25,.1,.04],[.35,.08,.03],[.48,.09,.03],[.59,.08,.03],[.68,.027,.02],[.77,.013,.015],[.88,.11,.04],[.98,.038,.045]]]],
  [['g',[[-.97,.16,.03],[-.88,.35,.05],[-.77,.35,.05],[-.66,.34,.05],[-.57,.17,.03],[-.46,.14,.03],[-.35,.07,.015],[-.24,.08,.02],[-.15,.055,.012],[-.05,.028,.008],[.05,.065,.015],[.15,.07,.015],[.25,.09,.02],[.35,.08,.02],[.44,.055,.012],[.54,.036,.01],[.65,.03,.008],[.75,.075,.015],[.84,.13,.03],[.95,.38,.06]]],
   ['m',[[-.96,.12,.04],[-.86,.29,.06],[-.75,.3,.06],[-.65,.32,.06],[-.54,.15,.04],[-.44,.12,.04],[-.35,.067,.03],[-.26,.08,.03],[-.15,.026,.02],[-.05,.026,.02],[.05,.12,.04],[.15,.08,.03],[.24,.08,.03],[.35,.09,.03],[.45,.11,.04],[.55,.07,.03],[.75,.11,.04],[.86,.27,.06],[.97,.25,.06]]]],
  [['m',[[-.96,.2,.05],[-.86,.27,.06],[-.76,.34,.06],[-.66,.21,.05],[-.56,.15,.04],[-.45,.075,.03],[-.26,.008,.01],[-.14,.075,.03],[-.04,.03,.02],[.05,.08,.03],[.15,.13,.04],[.25,.1,.03],[.35,.14,.04],[.55,.08,.03],[.75,.075,.03],[.85,.2,.05],[.96,.48,.08]]]],
  [['m',[[-.96,.11,.04],[-.86,.18,.05],[-.77,.18,.05],[-.66,.13,.04],[-.55,.095,.04],[-.46,.046,.03],[-.36,.05,.03],[-.26,.015,.016],[-.16,.028,.022],[-.05,.046,.03],[.05,.06,.03],[.15,.066,.03],[.25,.03,.022],[.35,.095,.04],[.45,.11,.04],[.55,.046,.03],[.66,.034,.028],[.75,.046,.03],[.85,.15,.05],[.95,.22,.06]]]],
  [['g',[[-.96,.15,.03],[-.86,.26,.04],[-.76,.28,.04],[-.65,.23,.04],[-.55,.18,.03],[-.45,.125,.025],[-.35,.068,.015],[-.26,.023,.01],[-.16,.026,.01],[-.06,.023,.01],[.04,.075,.015],[.15,.095,.02],[.25,.125,.025],[.34,.068,.015],[.44,.13,.025],[.64,.057,.015],[.75,.07,.015],[.85,.15,.03],[.95,.33,.05]]]],
  [['m',[[-.96,.18,.04],[-.85,.17,.04],[-.75,.25,.05],[-.65,.13,.04],[-.56,.1,.035],[-.46,.07,.03],[-.36,.033,.02],[-.25,.011,.012],[-.15,.011,.012],[-.05,.048,.025],[.06,.094,.035],[.16,.07,.03],[.25,.077,.03],[.36,.08,.03],[.45,.077,.03],[.55,.095,.03],[.76,.038,.025],[.86,.16,.04],[.95,.36,.06]]]],
  [['g',[[-.96,.15,.03],[-.86,.22,.04],[-.76,.24,.04],[-.65,.16,.03],[-.55,.1,.02],[-.45,.07,.015],[-.35,.04,.01],[-.25,.035,.01],[-.15,.02,.008],[-.05,.048,.012],[.05,.065,.015],[.15,.08,.015],[.25,.14,.025],[.35,.14,.025],[.45,.1,.02],[.55,.07,.015],[.65,.08,.015],[.75,.08,.015],[.85,.16,.03],[.95,.3,.05]]],
   ['m',[[-.94,.11,.04],[-.85,.24,.05],[-.75,.18,.04],[-.64,.15,.04],[-.55,.065,.03],[-.46,.1,.035],[-.35,.02,.018],[-.25,.02,.018],[-.15,.0095,.011],[-.05,.06,.025],[.05,.055,.025],[.25,.15,.04],[.35,.13,.04],[.55,.048,.025],[.65,.08,.03],[.85,.15,.04],[.95,.3,.06]]]],
  [['m',[[-.96,.15,.04],[-.85,.25,.05],[-.75,.12,.04],[-.65,.08,.03],[-.55,.095,.035],[-.45,.048,.025],[-.35,.06,.03],[-.25,.017,.018],[-.15,.038,.022],[.05,.038,.022],[.15,.11,.04],[.25,.12,.04],[.35,.11,.04],[.45,.08,.03],[.55,.038,.025],[.65,.065,.03],[.75,.038,.03],[.85,.036,.03],[.95,.23,.06]]]],
  [['k',[[-.96,.19,.04],[-.85,.22,.04],[-.75,.11,.03],[-.65,.12,.03],[-.55,.052,.02],[-.45,.037,.018],[-.35,.0095,.01],[-.25,.037,.018],[-.04,.037,.018],[.06,.028,.016],[.16,.065,.02],[.25,.095,.025],[.35,.13,.03],[.45,.09,.025],[.55,.057,.02],[.65,.037,.018],[.75,.018,.014],[.85,.06,.025],[.95,.24,.05]]]],
  [['m',[[-.96,.09,.03],[-.86,.18,.05],[-.76,.085,.035],[-.65,.16,.045],[-.56,.048,.025],[-.47,.048,.025],[-.37,.07,.03],[-.27,.04,.025],[-.16,.028,.022],[-.06,.029,.022],[.04,.03,.022],[.14,.06,.03],[.24,.1,.035],[.34,.135,.04],[.43,.028,.02],[.53,.042,.025],[.73,.048,.025],[.83,.19,.05],[.94,.3,.06]]]],
  [['g',[[-.96,.12,.02],[-.86,.13,.02],[-.75,.12,.02],[-.65,.11,.02],[-.55,.075,.015],[-.45,.04,.01],[-.35,.025,.008],[-.25,.022,.007],[-.15,.016,.006],[-.05,.038,.01],[.05,.045,.01],[.15,.065,.012],[.25,.095,.018],[.35,.1,.02],[.45,.09,.018],[.55,.06,.012],[.65,.057,.012],[.75,.033,.01],[.85,.11,.02],[.95,.3,.05]]],
   ['k',[[-.93,.09,.03],[-.75,.075,.025],[-.65,.052,.02],[-.44,.06,.02],[-.35,.012,.013],[-.25,.02,.016],[-.05,.038,.02],[.1,.065,.02],[.3,.09,.025],[.5,.052,.02],[.65,.045,.02],[.75,.035,.02],[.93,.17,.04]]]],
  [['k',[[-.96,.13,.03],[-.85,.11,.03],[-.75,.13,.03],[-.65,.07,.025],[-.55,.058,.02],[-.45,.04,.02],[-.35,.037,.018],[-.25,.024,.015],[-.15,.027,.015],[.05,.13,.03],[.15,.037,.018],[.25,.09,.025],[.35,.12,.03],[.45,.12,.03],[.55,.09,.025],[.65,.052,.02],[.75,.014,.013],[.85,.062,.025],[.95,.28,.05]]],
   ['m',[[-.94,.1,.04],[-.84,.09,.035],[-.75,.2,.05],[-.64,.058,.03],[-.54,.095,.035],[-.45,.037,.025],[-.35,.037,.025],[-.24,.06,.03],[-.06,.037,.025],[.05,.05,.03],[.15,.095,.035],[.25,.058,.03],[.33,.12,.04],[.45,.08,.035],[.55,.04,.03],[.65,.02,.022],[.75,.08,.035],[.85,.08,.035]]]],
  [['m',[[-.95,.13,.04],[-.86,.065,.025],[-.76,.057,.025],[-.65,.083,.03],[-.56,.048,.025],[-.45,.028,.018],[-.35,.028,.018],[-.16,.018,.015],[-.06,.018,.015],[.04,.048,.025],[.15,.087,.03],[.25,.042,.022],[.35,.11,.035],[.45,.063,.028],[.55,.063,.028],[.65,.063,.028],[.75,.042,.022],[.85,.065,.028],[.95,.25,.05]]]],
  [['k',[[-.94,.08,.025],[-.85,.045,.02],[-.75,.022,.016],[-.65,.024,.016],[-.56,.033,.018],[-.46,.052,.022],[-.35,.022,.018],[-.16,.052,.022],[.03,.057,.022],[.15,.033,.018],[.24,.08,.025],[.35,.055,.02],[.45,.065,.022],[.55,.057,.02],[.65,.045,.02],[.75,.055,.02],[.84,.06,.022],[.94,.17,.04]]]],
  [['g',[[-.95,.11,.02],[-.85,.08,.015],[-.75,.072,.014],[-.65,.068,.013],[-.55,.065,.013],[-.45,.04,.01],[-.35,.032,.008],[-.25,.015,.005],[-.15,.02,.006],[-.05,.026,.007],[.05,.042,.01],[.15,.09,.016],[.25,.08,.015],[.35,.1,.018],[.45,.095,.017],[.55,.08,.015],[.65,.05,.012],[.75,.044,.01],[.85,.1,.018],[.95,.27,.04]]]],
  [['k',[[-.95,.09,.025],[-.85,.033,.018],[-.75,.065,.022],[-.65,.08,.025],[-.55,.045,.02],[-.44,.03,.016],[-.35,.02,.014],[-.05,.01,.011],[.05,.065,.022],[.15,.063,.022],[.25,.065,.022],[.35,.09,.025],[.45,.1,.025],[.55,.053,.02],[.65,.032,.016],[.75,.063,.022],[.86,.1,.025],[.96,.19,.04]]],
   ['m',[[-.95,.24,.06],[-.76,.048,.049],[-.56,.046,.047],[-.46,.042,.043],[.14,.093,.04],[.36,.048,.049],[.57,.048,.049],[.85,.048,.049],[.95,.17,.05]]]],
  [['g',[[-.96,.09,.015],[-.86,.052,.01],[-.75,.04,.008],[-.65,.037,.008],[-.55,.033,.007],[-.45,.03,.007],[-.36,.015,.005],[-.25,.016,.005],[-.14,.02,.006],[-.04,.033,.007],[.06,.033,.007],[.16,.057,.01],[.25,.067,.012],[.35,.076,.013],[.45,.09,.015],[.54,.063,.011],[.64,.042,.009],[.75,.04,.008],[.84,.09,.015],[.95,.16,.025]]]],
  [['k',[[-.96,.048,.022],[-.86,.063,.025],[-.76,.057,.022],[-.66,.022,.015],[-.56,.011,.012],[-.47,.033,.018],[-.17,.021,.014],[-.07,.021,.014],[.03,.021,.014],[.13,.042,.018],[.23,.042,.018],[.33,.042,.018],[.43,.057,.02],[.53,.042,.018],[.63,.021,.015],[.73,.033,.018],[.83,.12,.03],[.94,.17,.04]]]],
  [['ks',[[-.95,.09,.02],[-.85,.04,.012],[-.75,.04,.012],[-.65,.03,.01],[-.55,.025,.009],[-.45,.023,.009],[-.25,.011,.008],[-.15,.011,.008],[-.05,.04,.012],[.05,.028,.01],[.15,.03,.01],[.25,.055,.015],[.35,.07,.015],[.45,.065,.015],[.55,.055,.015],[.65,.042,.013],[.75,.032,.012],[.85,.05,.014],[.95,.25,.04]]]],
  [['k',[[-.94,.11,.025],[-.85,.08,.02],[-.74,.026,.014],[-.65,.017,.011],[-.55,.0085,.009],[-.45,.0085,.009],[-.36,.0085,.009],[-.26,.0085,.009],[-.16,.0085,.009],[-.06,.048,.02],[.06,.018,.012],[.16,.019,.012],[.25,.048,.02],[.35,.017,.012],[.44,.036,.016],[.55,.06,.02],[.66,.018,.012],[.75,.036,.016],[.85,.06,.02],[.95,.18,.04]]]],
  [['g',[[-.98,.063,.01],[-.9,.045,.008],[-.82,.035,.007],[-.72,.022,.006],[-.64,.013,.005],[-.56,.015,.005],[-.47,.016,.005],[-.38,.015,.005],[-.28,.014,.005],[-.18,.014,.005],[-.05,.022,.006],[.05,.028,.007],[.15,.035,.008],[.24,.049,.01],[.35,.045,.009],[.43,.049,.01],[.52,.04,.009],[.58,.028,.007],[.71,.041,.009],[.8,.05,.01],[.91,.16,.025]]]],
  [['k',[[-.98,.038,.018],[-.86,.052,.02],[-.77,.052,.02],[-.67,.022,.014],[-.47,.043,.018],[-.19,.022,.014],[.03,.043,.018],[.13,.012,.013],[.24,.033,.016],[.49,.022,.014],[.57,.022,.014],[.68,.033,.016],[.83,.082,.025],[.92,.14,.035]]]],
  [['k',[[-.97,.1,.025],[-.86,.017,.012],[-.75,.017,.012],[-.58,.012,.01],[-.47,.0055,.006],[-.36,.02,.012],[-.23,.018,.012],[-.11,.02,.012],[.01,.0055,.006],[.14,.023,.013],[.25,.024,.013],[.4,.038,.016],[.53,.0055,.006],[.61,.052,.02],[.79,.08,.025],[.91,.16,.035]]]],
  [['ks',[[-.95,.066,.02],[-.75,.015,.01],[-.66,.013,.009],[-.59,.017,.01],[-.44,.019,.01],[-.33,.019,.01],[-.19,.019,.01],[-.05,.021,.011],[.06,.108,.03],[.14,.014,.009],[.28,.059,.018],[.44,.052,.017],[.65,.0094,.008],[.69,.038,.014],[.82,.052,.017],[.94,.18,.04]]],
   ['k',[[-1,.066,.02],[-.87,.033,.014],[-.73,.016,.01],[-.47,.016,.01],[-.36,.016,.01],[-.14,.019,.01],[.15,.02,.01],[.43,.025,.011],[.65,.03,.012],[.82,.045,.015]]],
   ['g',[[-.93,.06,.012],[-.82,.028,.008],[-.67,.019,.006],[-.59,.02,.006],[-.53,.0094,.005],[-.36,.017,.006],[-.25,.013,.005],[-.14,.016,.006],[.03,.021,.006],[.15,.025,.007],[.26,.03,.008],[.43,.033,.008],[.6,.029,.008],[.73,.03,.008]]]],
  [['k',[[-.97,.09,.025],[-.86,.043,.018],[-.77,.022,.013],[-.66,.012,.01],[-.54,.012,.01],[-.43,.012,.01],[-.27,.02,.012],[-.17,.0055,.006],[-.07,.012,.01],[.02,.022,.013],[.21,.05,.018],[.36,.022,.013],[.52,.012,.01],[.61,.024,.013],[.81,.095,.025],[.92,.18,.04]]]],
  [['g',[[-.97,.058,.01],[-.86,.055,.01],[-.76,.025,.006],[-.65,.019,.005],[-.53,.023,.006],[-.42,.021,.006],[-.31,.017,.005],[-.2,.013,.005],[-.08,.007,.004],[.01,.013,.005],[.14,.021,.006],[.25,.025,.006],[.4,.03,.007],[.51,.027,.007],[.62,.013,.005],[.73,.019,.005],[.85,.058,.01],[.93,.17,.025]]]],
  [['ks',[[-.96,.1,.025],[-.85,.057,.02],[-.76,.0085,.009],[-.65,.0055,.006],[-.57,.0045,.005],[-.46,.021,.012],[-.35,.021,.012],[-.2,.012,.01],[-.07,.0085,.009],[.07,.009,.009],[.25,.019,.012],[.33,.034,.015],[.41,.023,.013],[.5,.032,.015],[.59,.011,.01],[.67,.0095,.009],[.81,.07,.02],[.89,.17,.04]]],
   ['k',[[-.96,.048,.018],[-.85,.04,.016],[-.76,.021,.012],[-.68,.0085,.009],[-.54,.019,.012],[-.4,.011,.01],[-.29,.021,.012],[-.18,.0055,.006],[-.01,.01,.009],[.16,.021,.012],[.27,.011,.01],[.38,.019,.012],[.52,.011,.01],[.64,.019,.012],[.78,.08,.022]]]],
  [['k',[[-.95,.1,.025],[-.86,.049,.018],[-.76,.028,.014],[-.65,.019,.012],[-.56,.0055,.006],[-.43,.013,.01],[-.36,.041,.016],[-.17,.0055,.006],[.02,.011,.009],[.4,.02,.012],[.55,.018,.011],[.74,.0055,.006],[.8,.063,.02],[.93,.15,.035]]]],
  [['ks',[[-.98,.056,.018],[-.87,.036,.014],[-.78,.023,.012],[-.68,.013,.009],[-.59,.01,.008],[-.39,.0037,.004],[-.25,.0081,.007],[-.1,.0037,.004],[.01,.015,.009],[.13,.0077,.007],[.26,.011,.008],[.37,.012,.008],[.51,.021,.011],[.71,.013,.009],[.82,.067,.02],[.91,.18,.04]]]],
  [['k',[[-.98,.09,.025],[-.86,.037,.015],[-.77,.016,.01],[-.67,.0087,.009],[-.58,.015,.01],[-.47,.014,.01],[-.38,.0105,.009],[-.26,.021,.012],[-.15,.023,.012],[.35,.014,.01],[.44,.021,.012],[.76,.0095,.01],[.83,.076,.022],[.92,.22,.045]]]],
  [['ks',[[-.97,.088,.022],[-.88,.064,.02],[-.69,.025,.012],[-.58,.0087,.008],[-.47,.013,.009],[-.36,.015,.01],[-.19,.0018,.002],[-.08,.0035,.0036],[.01,.0033,.0034],[.12,.009,.008],[.23,.0077,.007],[.33,.016,.01],[.48,.014,.009],[.6,.0058,.006],[.71,.0055,.006],[.8,.06,.018],[.91,.16,.035]]]],
  [['ks',[[-.96,.076,.02],[-.77,.028,.012],[-.66,.0058,.006],[-.55,.023,.011],[-.44,.011,.008],[-.33,.011,.008],[-.14,.0026,.0027],[-.05,.0055,.006],[.04,.0026,.0027],[.26,.0026,.0027],[.34,.014,.009],[.49,.012,.008],[.66,.0025,.0026],[.85,.081,.02],[.94,.18,.04]]]],
  [['ks',[[-.97,.085,.02],[-.88,.04,.014],[-.76,.036,.013],[-.6,.028,.012],[-.48,.017,.01],[-.38,.0063,.006],[-.27,.014,.009],[.22,.01,.008],[.33,.0017,.0018],[.53,.0068,.006],[.61,.0039,.004],[.73,.0087,.007],[.82,.036,.013],[.93,.16,.035]]]],
  [['ks',[[-.97,.064,.018],[-.86,.06,.017],[-.75,.037,.013],[-.65,.012,.008],[-.5,.012,.008],[-.39,.0105,.008],[-.27,.012,.008],[-.16,.014,.009],[.03,.0027,.0028],[.14,.009,.008],[.27,.0055,.006],[.37,.0055,.006],[.55,.012,.008],[.63,.012,.008],[.74,.012,.008],[.84,.074,.02],[.92,.12,.03]]]],
  [['ks',[[-.96,.051,.016],[-.87,.036,.013],[-.75,.023,.011],[-.64,.0072,.006],[-.57,.0054,.005],[-.49,.0016,.0017],[-.38,.0105,.008],[-.29,.017,.01],[-.12,.011,.008],[.03,.0031,.0032],[.21,.0047,.005],[.32,.0027,.0028],[.4,.0083,.007],[.52,.017,.01],[.66,.0105,.008],[.83,.054,.016],[.92,.17,.035]]]],
  [['ks',[[-.97,.036,.013],[-.89,.022,.01],[-.8,.014,.009],[-.69,.0031,.0032],[-.58,.009,.007],[-.39,.0031,.0032],[-.3,.017,.01],[-.19,.0031,.0032],[-.08,.0031,.0032],[.07,.0031,.0032],[.18,.0031,.0032],[.3,.014,.009],[.41,.0031,.0032],[.52,.0068,.006],[.66,.0031,.0032],[.75,.022,.011],[.88,.13,.03]]]],
  [['ks',[[-.95,.063,.018],[-.85,.05,.016],[-.76,.014,.008],[-.66,.01,.007],[-.56,.0067,.006],[-.44,.0033,.0034],[-.35,.0067,.006],[-.24,.0147,.009],[-.15,.01,.007],[-.04,.0033,.0034],[.04,.0033,.0034],[.16,.014,.008],[.25,.02,.01],[.35,.0067,.006],[.46,.01,.007],[.55,.0033,.0034],[.66,.025,.011],[.76,.0033,.0034],[.85,.043,.014],[.96,.18,.04]]]],
  [['ks',[[-.96,.046,.015],[-.85,.02,.01],[-.76,.026,.011],[-.46,.0056,.0057],[-.35,.01,.007],[-.24,.014,.008],[-.15,.01,.007],[-.05,.0056,.0057],[.15,.0056,.0057],[.25,.01,.007],[.35,.01,.007],[.45,.03,.012],[.55,.01,.007],[.65,.02,.01],[.76,.0056,.0057],[.86,.033,.013],[.96,.12,.03]]]],
  [['ks',[[-.96,.034,.013],[-.86,.034,.013],[-.75,.014,.008],[-.65,.009,.007],[-.46,.0044,.0045],[-.35,.008,.007],[-.24,.02,.01],[-.13,.0044,.0045],[-.02,.012,.008],[.07,.0044,.0045],[.18,.008,.007],[.3,.015,.009],[.4,.012,.008],[.5,.02,.01],[.6,.02,.01],[.7,.025,.011],[.8,.01,.008],[.9,.04,.014],[.95,.06,.018]]]],
  [['o',[[-.95,.006,.004],[-.85,.0025,.002],[-.75,.003,.0025],[-.65,.0025,.002],[-.55,.0028,.0025],[-.45,.0025,.002],[-.35,.0032,.0025],[-.25,.0028,.0025],[-.15,.005,.003],[-.05,.0055,.003],[.05,.003,.0025],[.15,.005,.003],[.25,.007,.004],[.35,.012,.005],[.45,.01,.005],[.55,.012,.005],[.65,.009,.004],[.75,.006,.004],[.85,.0075,.004],[.95,.035,.01]]]],
  [['o',[[-.95,.02,.008],[-.85,.004,.003],[-.75,.0022,.002],[-.65,.0016,.0015],[-.55,.0025,.002],[-.45,.004,.003],[-.35,.011,.005],[-.25,.012,.005],[-.15,.011,.005],[-.05,.004,.003],[.05,.006,.004],[.15,.005,.003],[.25,.006,.004],[.35,.009,.004],[.46,.012,.005],[.57,.014,.005],[.67,.014,.005],[.77,.0068,.004],[.88,.01,.005],[.99,.055,.015]]]],
  [['o',[[-.97,.079,.02],[-.87,.017,.006],[-.77,.0035,.003],[-.66,.0068,.004],[-.56,.0035,.003],[-.46,.0035,.003],[-.36,.0035,.003],[-.26,.0047,.003],[-.15,.0017,.0015],[-.05,.0017,.0015],[.15,.005,.003],[.26,.0035,.003],[.36,.005,.003],[.45,.0068,.004],[.55,.012,.005],[.65,.02,.006],[.76,.014,.005],[.86,.0035,.0035],[.97,.02,.006]]]]
];

// axis decorations
const yLabelExp = [['1', null, 1], ['10', '-1', 0.1], ['10', '-2', 0.01]];
const xMajor = [-1, 0, 1];
const xMinor = [-0.75, -0.5, -0.25, 0.25, 0.5, 0.75];
const xLabels = ['-1', '0', '1'];

const markerColors = { c: '#00eeee', m: '#ff00ff', b: '#0000ff', r: '#ff0000', g: '#3a9a1e', k: '#000000', ks: '#000000', o: '#ff9a1a' };

const colEdges = [65, 202, 338, 475, 612, 748, 885, 1022, 1158];
const topRows = [47, 199, 352, 504, 656, 808];
const bottomRows = [916, 1068, 1221, 1373, 1525, 1677];
const FONT = '"Liberation Sans", Arial, sans-serif';

const errorBars = {
  id: 'errorBars',
  beforeDatasetsDraw(chart) {
    const { ctx, chartArea: a, scales: { x, y } } = chart;
    ctx.save();
    ctx.beginPath();
    ctx.rect(a.left, a.top, a.right - a.left, a.bottom - a.top);
    ctx.clip();
    chart.data.datasets.forEach(ds => {
      if (!ds.errors) return;
      ctx.strokeStyle = ds.pointBorderColor;
      ctx.lineWidth = 1.6;
      ctx.beginPath();
      ds.data.forEach((p, i) => {
        const e = ds.errors[i];
        const px = x.getPixelForValue(p.x);
        const py = y.getPixelForValue(p.y);
        const top = y.getPixelForValue(p.y + e);
        const lo = p.y - e;
        const bot = lo > 0 ? y.getPixelForValue(lo) : a.bottom + 4;
        if (top < py - ds.gap) { ctx.moveTo(px, top); ctx.lineTo(px, py - ds.gap); }
        if (bot > py + ds.gap) { ctx.moveTo(px, py + ds.gap); ctx.lineTo(px, bot); }
      });
      ctx.stroke();
    });
    ctx.restore();
  }
};

const panelFrame = {
  id: 'panelFrame',
  afterDraw(chart, args, opts) {
    const { ctx, chartArea: a, scales: { x, y } } = chart;
    ctx.save();
    ctx.strokeStyle = '#000';
    ctx.lineWidth = 1.4;
    ctx.beginPath();
    // log ticks on the left edge
    [0.001, 0.01, 0.1, 1].forEach(d => {
      for (let m = 1; m <= 9; m++) {
        const v = d * m;
        if (v >= 4 || v <= 0.001) continue;
        const py = Math.round(y.getPixelForValue(v)) + 0.5;
        const len = m === 1 ? 9 : 5;
        ctx.moveTo(a.left, py);
        ctx.lineTo(a.left + len, py);
      }
    });
    // cos theta ticks on the bottom edge
    xMajor.concat(xMinor).forEach(v => {
      const px = Math.round(x.getPixelForValue(v)) + 0.5;
      const len = xMajor.includes(v) ? 9 : 5;
      ctx.moveTo(px, a.bottom);
      ctx.lineTo(px, a.bottom - len);
    });
    ctx.stroke();
    ctx.lineWidth = 2;
    ctx.strokeRect(a.left, a.top, a.right - a.left, a.bottom - a.top);

    ctx.fillStyle = '#000';
    ctx.textBaseline = 'alphabetic';
    ctx.textAlign = 'left';
    ctx.font = '19px ' + FONT;
    ctx.fillText('W=' + opts.energy, a.left + 19, a.top + 16);

    if (opts.yLabels) {
      ctx.textBaseline = 'middle';
      yLabelExp.forEach(([base, exp, v]) => {
        const py = y.getPixelForValue(v);
        ctx.font = '21px ' + FONT;
        ctx.textAlign = 'right';
        if (!exp) {
          ctx.fillText(base, a.left - 23, py + 1);
        } else {
          ctx.fillText(base, a.left - 30, py + 1);
          ctx.font = '16px ' + FONT;
          ctx.textAlign = 'left';
          ctx.fillText(exp, a.left - 20, py - 18);
        }
      });
    }
    if (opts.xLabels) {
      ctx.font = '20px ' + FONT;
      ctx.textAlign = 'center';
      ctx.textBaseline = 'middle';
      xMajor.forEach((v, i) => {
        ctx.fillText(xLabels[i], x.getPixelForValue(v), a.bottom + 15);
      });
    }
    ctx.restore();
  }
};

const page = document.getElementById('page');

energies.forEach((w, k) => {
  const lower = k >= 40;
  const j = lower ? k - 40 : k;
  const r = Math.floor(j / 8), c = j % 8;
  const rows = lower ? bottomRows : topRows;
  const hasX = lower ? (r === 4 || (r === 3 && c >= 6)) : r === 4;
  const padL = c === 0 ? colEdges[0] : 3;
  const padB = hasX ? 36 : 3;
  const pw = colEdges[c + 1] - colEdges[c];
  const ph = rows[r + 1] - rows[r];
  const cw = pw + padL + 3, ch = ph + 3 + padB;

  const cv = document.createElement('canvas');
  cv.width = cw; cv.height = ch;
  cv.style.width = cw + 'px'; cv.style.height = ch + 'px';
  cv.style.left = (colEdges[c] - padL) + 'px';
  cv.style.top = (rows[r] - 3) + 'px';
  page.appendChild(cv);

  const datasets = [
    {
      data: fitCos.map((cx, i) => ({ x: cx, y: solidFit[k][i] })),
      showLine: true, borderColor: '#000', borderWidth: 2, pointRadius: 0,
      cubicInterpolationMode: 'monotone', fill: false
    },
    {
      data: fitCos.map((cx, i) => ({ x: cx, y: dashedFit[k][i] })),
      showLine: true, borderColor: '#000', borderWidth: 1.6, borderDash: [3.5, 2.5], pointRadius: 0,
      cubicInterpolationMode: 'monotone', fill: false
    }
  ];
  measured[k].forEach(([code, pts]) => {
    const sq = code === 'ks';
    datasets.push({
      data: pts.map(p => ({ x: p[0], y: p[1] })),
      errors: pts.map(p => p[2]),
      showLine: false,
      pointStyle: sq ? 'rect' : 'circle',
      pointRadius: sq ? 4.8 : 3.4,
      pointBorderWidth: 1.5,
      pointBorderColor: markerColors[code],
      borderColor: markerColors[code],
      pointBackgroundColor: 'rgba(0,0,0,0)',
      gap: sq ? 3.4 : 3.6
    });
  });

  new Chart(cv, {
    type: 'scatter',
    data: { datasets },
    options: {
      responsive: false,
      animation: false,
      devicePixelRatio: 1,
      events: [],
      layout: { padding: { left: padL, right: 3, top: 3, bottom: padB } },
      plugins: {
        legend: { display: false },
        tooltip: { enabled: false },
        panelFrame: { energy: w, yLabels: c === 0, xLabels: hasX }
      },
      scales: {
        x: { type: 'linear', min: -1.11, max: 1.115, display: false },
        y: { type: 'logarithmic', min: 0.001, max: 4, display: false }
      }
    },
    plugins: [errorBars, panelFrame]
  });
});
</script>
</body>
</html>
